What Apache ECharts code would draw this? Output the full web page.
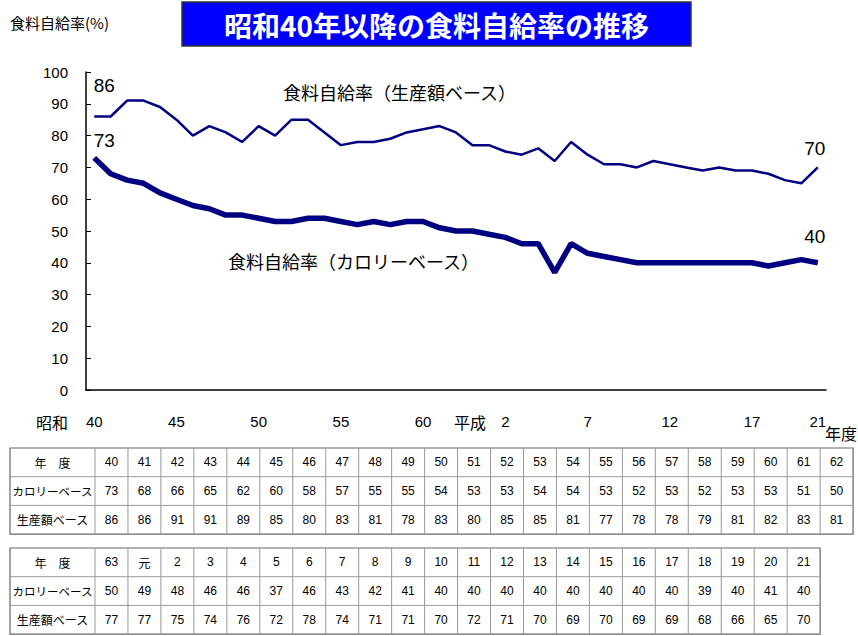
<!DOCTYPE html>
<html>
<head>
<meta charset="utf-8">
<script src="https://cdn.jsdelivr.net/npm/echarts@6/dist/echarts.min.js"></script>
<style>
html,body{margin:0;padding:0;background:#fff;}
#main{width:858px;height:636px;}
</style>
</head>
<body>
<div id="main"></div>
<script>
// ---- data ----
const years = ['40','41','42','43','44','45','46','47','48','49','50','51','52','53','54','55','56','57','58','59','60','61','62',
               '63','元','2','3','4','5','6','7','8','9','10','11','12','13','14','15','16','17','18','19','20','21'];
const calorie = [73,68,66,65,62,60,58,57,55,55,54,53,53,54,54,53,52,53,52,53,53,51,50,
                 50,49,48,46,46,37,46,43,42,41,40,40,40,40,40,40,40,40,39,40,41,40];
const production = [86,86,91,91,89,85,80,83,81,78,83,80,85,85,81,77,78,78,79,81,82,83,81,
                    77,77,75,74,76,72,78,74,71,71,70,72,71,70,69,70,69,69,68,66,65,70];
const xLabelIdx = [0,5,10,15,20,24,25,30,35,40,44];
const yTicks = {min:0, max:100, interval:10};
const rowNames = ['年　度','カロリーベース','生産額ベース'];

const FONT = '"Liberation Sans","Noto Sans CJK JP",sans-serif';
const JFONT = '"Noto Sans CJK JP","Liberation Sans",sans-serif';
const navy = '#000080';

function buildTable(x0, y0, start, count){
  const els = [];
  const firstW = 85, colW = 32.96, rowH = 28.7;
  const w = firstW + colW*count, h = rowH*3;
  els.push({type:'rect', shape:{x:x0,y:y0,width:w,height:h}, style:{fill:'#fff', stroke:'#666', lineWidth:1.2}});
  for(let r=1;r<3;r++){
    els.push({type:'line', shape:{x1:x0,y1:y0+r*rowH,x2:x0+w,y2:y0+r*rowH}, style:{stroke:'#999', lineWidth:1}});
  }
  for(let c=0;c<count;c++){
    const xl = x0+firstW+c*colW;
    els.push({type:'line', shape:{x1:xl,y1:y0,x2:xl,y2:y0+h}, style:{stroke:'#999', lineWidth:1}});
  }
  const rows = [years, calorie, production];
  for(let r=0;r<3;r++){
    const cy = y0 + r*rowH + rowH/2;
    els.push({type:'text', x:x0+firstW/2, y:cy, style:{text:rowNames[r], fontSize:r===1?11.5:12, fontFamily:JFONT, fill:'#000', align:'center', verticalAlign:'middle'}});
    for(let c=0;c<count;c++){
      const v = rows[r][start+c];
      els.push({type:'text', x:x0+firstW+c*colW+colW/2, y:cy, style:{text:String(v), fontSize:12, fontFamily:(String(v)==='元'?JFONT:FONT), fill:'#000', align:'center', verticalAlign:'middle'}});
    }
  }
  return els;
}

const chart = echarts.init(document.getElementById('main'), null, {renderer:'svg'});
const graphics = [
  {type:'rect', shape:{x:182,y:2,width:509,height:44}, style:{fill:'#0000ff', stroke:'#333', lineWidth:1.5}},
  {type:'text', x:436.5, y:25, style:{text:'昭和40年以降の食料自給率の推移', fontSize:28, fontWeight:'bold', fontFamily:JFONT, fill:'#fff', align:'center', verticalAlign:'middle'}},
  {type:'text', x:10, y:22, style:{text:'食料自給率(%)', fontSize:15, fontFamily:JFONT, fill:'#000', align:'left', verticalAlign:'middle'}},
  {type:'text', x:283, y:92, style:{text:'食料自給率（生産額ベース）', fontSize:18, fontFamily:JFONT, fill:'#000', align:'left', verticalAlign:'middle'}},
  {type:'text', x:228, y:261, style:{text:'食料自給率（カロリーベース）', fontSize:18, fontFamily:JFONT, fill:'#000', align:'left', verticalAlign:'middle'}},
  {type:'text', x:52, y:422, style:{text:'昭和', fontSize:16, fontFamily:JFONT, fill:'#000', align:'center', verticalAlign:'middle'}},
  {type:'text', x:841, y:433, style:{text:'年度', fontSize:16, fontFamily:JFONT, fill:'#000', align:'center', verticalAlign:'middle'}}
].concat(buildTable(10,448,0,23)).concat(buildTable(10,548,23,22));

function lbl(offset){
  return {show:true, position:'top', distance:5, offset:offset, fontSize:19, fontFamily:FONT, color:'#000'};
}
const prodData = production.map((v,i)=>{
  if(i===0) return {value:v, label:lbl([10,-16])};
  if(i===production.length-1) return {value:v, label:lbl([-3,-4])};
  return v;
});
const calData = calorie.map((v,i)=>{
  if(i===0) return {value:v, label:lbl([10,-2])};
  if(i===calorie.length-1) return {value:v, label:lbl([-3,-11])};
  return v;
});

chart.setOption({
  animation:false,
  backgroundColor:'#fff',
  grid:{left:86, right:32, top:72, bottom:246, containLabel:false},
  xAxis:{
    type:'category', data:years, boundaryGap:true,
    axisLine:{lineStyle:{color:'#000', width:1.5}},
    axisTick:{inside:true, length:5, interval:0, lineStyle:{color:'#000', width:1}},
    axisLabel:{
      interval:(i)=>xLabelIdx.includes(i), margin:24, fontSize:15, fontFamily:FONT, color:'#000',
      formatter:(v,i)=> i===24 ? '{p|平成}' : v,
      rich:{p:{fontSize:16, fontFamily:JFONT, color:'#000', padding:[0,38,0,0]}}
    },
    splitLine:{show:false}
  },
  yAxis:{
    type:'value', min:yTicks.min, max:yTicks.max, interval:yTicks.interval,
    axisLine:{show:true, lineStyle:{color:'#000', width:1.5}},
    axisTick:{show:true, inside:true, length:5, lineStyle:{color:'#000', width:1}},
    axisLabel:{margin:18, fontSize:15, fontFamily:FONT, color:'#000'},
    splitLine:{show:false}
  },
  series:[
    {name:'生産額ベース', type:'line', data:prodData, symbol:'circle', symbolSize:1, showSymbol:true,
     itemStyle:{color:'rgba(0,0,0,0)', borderWidth:0}, lineStyle:{color:navy, width:2.5}, emphasis:{disabled:true}},
    {name:'カロリーベース', type:'line', data:calData, symbol:'circle', symbolSize:1, showSymbol:true,
     itemStyle:{color:'rgba(0,0,0,0)', borderWidth:0}, lineStyle:{color:navy, width:5.5}, emphasis:{disabled:true}}
  ],
  graphic:graphics
});
</script>
</body>
</html>
